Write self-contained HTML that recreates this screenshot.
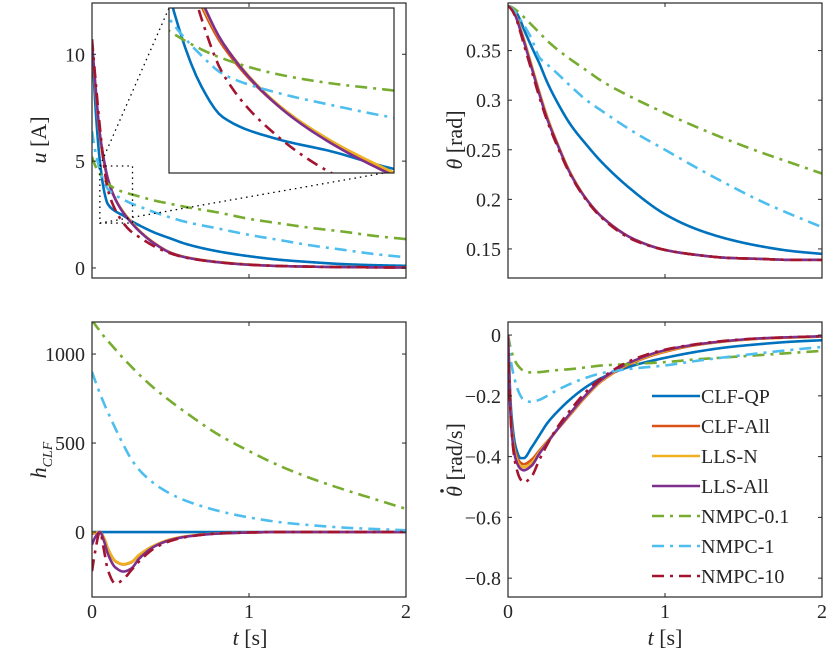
<!DOCTYPE html>
<html><head><meta charset="utf-8"><style>
html,body{margin:0;padding:0;background:#fff;}
svg{display:block;}
svg text{font-family:"Liberation Serif","DejaVu Serif",serif;}
</style></head><body>
<svg id="chart" width="830" height="664" viewBox="0 0 830 664" font-family="Liberation Serif, serif"></svg>
<script>
const T = [0,0.02,0.05,0.08,0.1,0.15,0.2,0.25,0.3,0.4,0.5,0.6,0.8,1.0,1.2,1.4,1.6,1.8,2.0];
const seriesNames = ["CLF-QP","CLF-All","LLS-N","LLS-All","NMPC-0.1","NMPC-1","NMPC-10"];
// u [A]
const uQP   = [10.7,7.8,5.0,3.5,3.0,2.65,2.45,2.2,2.0,1.65,1.38,1.12,0.78,0.55,0.38,0.27,0.18,0.13,0.1];
const uAll  = [10.5,8.6,6.2,4.8,4.15,3.2,2.6,2.15,1.75,1.15,0.72,0.5,0.28,0.16,0.09,0.06,0.04,0.03,0.02];
const uLN   = [10.5,8.6,6.2,4.85,4.2,3.22,2.62,2.17,1.76,1.15,0.72,0.5,0.28,0.16,0.09,0.06,0.04,0.03,0.02];
const uLA   = [10.5,8.7,6.3,4.9,4.2,3.2,2.58,2.12,1.73,1.13,0.71,0.49,0.27,0.15,0.09,0.06,0.04,0.03,0.02];
const uN01  = [5.2,4.8,4.4,4.1,3.95,3.7,3.55,3.45,3.35,3.15,3.0,2.85,2.6,2.3,2.08,1.87,1.7,1.5,1.35];
const uN1   = [6.4,5.5,4.6,4.0,3.7,3.4,3.2,3.02,2.88,2.6,2.36,2.15,1.85,1.55,1.3,1.05,0.85,0.65,0.5];
const uN10  = [10.7,9.0,6.6,4.6,3.7,2.7,2.1,1.7,1.45,1.0,0.68,0.48,0.27,0.15,0.09,0.06,0.04,0.03,0.02];
// theta [rad]
const thQP  = [0.395,0.394,0.389,0.38,0.372,0.354,0.337,0.318,0.302,0.275,0.255,0.237,0.208,0.185,0.17,0.16,0.153,0.148,0.145];
const thAll = [0.395,0.393,0.385,0.372,0.362,0.335,0.308,0.283,0.262,0.226,0.2,0.182,0.16,0.149,0.144,0.141,0.14,0.139,0.139];
const thLN  = [0.395,0.393,0.385,0.372,0.362,0.335,0.308,0.283,0.262,0.226,0.2,0.182,0.16,0.149,0.144,0.141,0.14,0.139,0.139];
const thLA  = [0.395,0.393,0.384,0.37,0.36,0.333,0.306,0.281,0.261,0.225,0.2,0.182,0.16,0.149,0.144,0.141,0.14,0.139,0.139];
const thN01 = [0.395,0.394,0.391,0.387,0.384,0.376,0.368,0.36,0.353,0.341,0.33,0.319,0.302,0.287,0.273,0.26,0.248,0.237,0.226];
const thN1  = [0.395,0.393,0.388,0.381,0.376,0.362,0.343,0.336,0.329,0.314,0.3,0.289,0.268,0.25,0.232,0.215,0.199,0.185,0.172];
const thN10 = [0.395,0.392,0.383,0.368,0.357,0.33,0.303,0.279,0.259,0.224,0.199,0.181,0.159,0.149,0.144,0.141,0.14,0.139,0.139];
// h_CLF
const hQP   = [0,0,0,0,0,0,0,0,0,0,0,0,0,0,0,0,0,0,0];
const hAll  = [-10,-5,0,-40,-90,-165,-182,-170,-130,-75,-42,-25,-8,-3,0,0,0,0,0];
const hLN   = [0,-3,0,-40,-90,-163,-180,-168,-128,-74,-41,-24,-8,-3,0,0,0,0,0];
const hLA   = [-70,-30,0,-60,-120,-200,-222,-205,-150,-80,-45,-26,-9,-3,0,0,0,0,0];
const hN01  = [1190,1165,1130,1095,1075,1025,975,930,885,805,735,670,550,455,370,300,240,185,130];
const hN1   = [900,850,780,715,675,580,490,410,350,270,215,175,120,82,55,38,25,17,10];
const hN10  = [-220,-110,0,-120,-210,-290,-265,-215,-165,-90,-50,-28,-8,-2,0,0,0,0,0];
// theta-dot [rad/s]
const tdQP  = [0,-0.25,-0.37,-0.405,-0.405,-0.37,-0.33,-0.29,-0.26,-0.21,-0.17,-0.14,-0.1,-0.075,-0.055,-0.04,-0.03,-0.022,-0.017];
const tdAll = [0,-0.28,-0.39,-0.42,-0.425,-0.41,-0.38,-0.35,-0.32,-0.26,-0.2,-0.15,-0.09,-0.055,-0.033,-0.02,-0.012,-0.008,-0.005];
const tdLN  = [0,-0.29,-0.4,-0.43,-0.435,-0.42,-0.385,-0.352,-0.32,-0.258,-0.198,-0.148,-0.088,-0.053,-0.032,-0.02,-0.012,-0.008,-0.005];
const tdLA  = [0,-0.3,-0.41,-0.44,-0.445,-0.43,-0.39,-0.355,-0.32,-0.255,-0.195,-0.145,-0.085,-0.05,-0.031,-0.019,-0.011,-0.007,-0.004];
const tdN01 = [0,-0.05,-0.09,-0.11,-0.118,-0.123,-0.122,-0.119,-0.116,-0.112,-0.106,-0.1,-0.095,-0.089,-0.08,-0.073,-0.066,-0.059,-0.052];
const tdN1  = [0,-0.09,-0.16,-0.2,-0.213,-0.22,-0.213,-0.2,-0.185,-0.16,-0.14,-0.125,-0.11,-0.1,-0.085,-0.072,-0.06,-0.049,-0.039];
const tdN10 = [0,-0.3,-0.43,-0.475,-0.485,-0.465,-0.41,-0.36,-0.315,-0.245,-0.185,-0.14,-0.08,-0.048,-0.03,-0.018,-0.011,-0.007,-0.004];
const xTicks = [0,1,2];
const uTicks = [0,5,10];
const thTicks = [0.15,0.2,0.25,0.3,0.35];
const hTicks = [0,500,1000];
const tdTicks = [0,-0.2,-0.4,-0.6,-0.8];

const NS="http://www.w3.org/2000/svg";
const svg=document.getElementById('chart');
const FONT="Liberation Serif, serif";
const colors=["#0072BD","#D95319","#EDB120","#7E2F8E","#77AC30","#4DBEEE","#A2142F"];
const dashed=[false,false,false,false,true,true,true];
const DASH="12 6 3 6";
function mk(tag,attrs,parent){const e=document.createElementNS(NS,tag);for(const k in attrs)e.setAttribute(k,attrs[k]);if(tag==='text')e.setAttribute('font-family',FONT);(parent||svg).appendChild(e);return e;}

function interp(xs,ys){
  const n=xs.length,d=[],m=[];
  for(let i=0;i<n-1;i++)d.push((ys[i+1]-ys[i])/(xs[i+1]-xs[i]));
  m[0]=d[0];m[n-1]=d[n-2];
  for(let i=1;i<n-1;i++){ if(d[i-1]*d[i]<=0)m[i]=0; else {const h0=xs[i]-xs[i-1],h1=xs[i+1]-xs[i];const w1=2*h1+h0,w2=h1+2*h0;m[i]=(w1+w2)/(w1/d[i-1]+w2/d[i]);} }
  const out=[];
  for(let i=0;i<n-1;i++){const h=xs[i+1]-xs[i];const steps=Math.max(4,Math.ceil(h*200));
    for(let s=0;s<steps;s++){const u=s/steps,u2=u*u,u3=u2*u;
      out.push([xs[i]+u*h,(2*u3-3*u2+1)*ys[i]+(u3-2*u2+u)*h*m[i]+(-2*u3+3*u2)*ys[i+1]+(u3-u2)*h*m[i+1]]);}}
  out.push([xs[n-1],ys[n-1]]);return out;
}
function scale(d0,d1,p0,p1){return v=>p0+(v-d0)*(p1-p0)/(d1-d0);}

function panel(o){
  const g=mk('g',{});
  
  
  const X=scale(o.xd[0],o.xd[1],o.l,o.r),Y=scale(o.yd[0],o.yd[1],o.b,o.t);
  const cid='clip-'+o.name;
  const cp=mk('clipPath',{id:cid},g);mk('rect',{x:o.l,y:o.t,width:o.r-o.l,height:o.b-o.t},cp);
  const lg=mk('g',{'clip-path':'url(#'+cid+')'},g);
  o.series.forEach((ys,i)=>{
    const pts=interp(T,ys);
    const p=mk('path',{d:'M'+pts.map(q=>X(q[0]).toFixed(2)+','+Y(q[1]).toFixed(2)).join('L'),fill:'none',stroke:colors[i],'stroke-width':2.6,'stroke-linejoin':'round'},lg);
    if(dashed[i])p.setAttribute('stroke-dasharray',DASH);
    
    
  });
  if(o.extra)o.extra(g,X,Y);
  const box=mk('rect',{x:o.l,y:o.t,width:o.r-o.l,height:o.b-o.t,fill:'none',stroke:'#262626','stroke-width':1.2},g);
  
  
  o.xt.forEach(v=>{const x=X(v);
    mk('line',{x1:x,x2:x,y1:o.b,y2:o.b-4,stroke:'#262626','stroke-width':1},g);
    mk('line',{x1:x,x2:x,y1:o.t,y2:o.t+4,stroke:'#262626','stroke-width':1},g);
    if(o.xlabels){const t=mk('text',{x:x,y:o.b+21,'text-anchor':'middle','font-size':20,fill:'#262626'},g);t.textContent=String(v);
      
      }
  });
  o.yt.forEach(v=>{const y=Y(v);
    mk('line',{x1:o.l,x2:o.l+4,y1:y,y2:y,stroke:'#262626','stroke-width':1},g);
    mk('line',{x1:o.r,x2:o.r-4,y1:y,y2:y,stroke:'#262626','stroke-width':1},g);
    const t=mk('text',{x:o.l-7,y:y+7,'text-anchor':'end','font-size':20,fill:'#262626'},g);t.textContent=o.fmt(v);
    
    
  });
  return {X,Y};
}
const fmtNum=v=>(v<0?'−':'')+String(Math.abs(v));

panel({name:'u-panel',l:92,r:406,t:3,b:278,xd:[0,2],yd:[-0.47,12.4],series:[uQP,uAll,uLN,uLA,uN01,uN1,uN10],xt:xTicks,yt:uTicks,fmt:fmtNum,xlabels:false,
  extra:(g,X,Y)=>{
    const x0=X(0.05),x1=X(0.258),y0=Y(4.77),y1=Y(2.1);
    const r=mk('rect',{x:x0,y:y0,width:x1-x0,height:y1-y0,fill:'none',stroke:'#000','stroke-width':1.3,'stroke-dasharray':'1.5 4'},g);
    
    
    mk('line',{x1:x0,y1:y0,x2:169,y2:8,stroke:'#000','stroke-width':1.3,'stroke-dasharray':'1.5 4'},g);
    mk('line',{x1:x0,y1:y1,x2:384,y2:173,stroke:'#000','stroke-width':1.3,'stroke-dasharray':'1.5 4'},g);
  }});
(function(){
  const o={l:169,r:394,t:8,b:173};
  const g=mk('g',{});
  
  
  mk('rect',{x:o.l,y:o.t,width:o.r-o.l,height:o.b-o.t,fill:'#fff'},g);
  const X=scale(0.05,0.258,o.l,o.r),Y=scale(2.1,4.77,o.b,o.t);
  const cp=mk('clipPath',{id:'clip-inset'},g);mk('rect',{x:o.l,y:o.t,width:o.r-o.l,height:o.b-o.t},cp);
  const lg=mk('g',{'clip-path':'url(#clip-inset)'},g);
  [uQP,uAll,uLN,uLA,uN01,uN1,uN10].forEach((ys,i)=>{
    const pts=interp(T,ys);
    const p=mk('path',{d:'M'+pts.map(q=>X(q[0]).toFixed(2)+','+Y(q[1]).toFixed(2)).join('L'),fill:'none',stroke:colors[i],'stroke-width':2.6},lg);
    if(dashed[i])p.setAttribute('stroke-dasharray',DASH);
    
    
  });
  mk('rect',{x:o.l,y:o.t,width:o.r-o.l,height:o.b-o.t,fill:'none',stroke:'#262626','stroke-width':1.2},g);
})();
panel({name:'theta-panel',l:508,r:822,t:3,b:278,xd:[0,2],yd:[0.1207,0.398],series:[thQP,thAll,thLN,thLA,thN01,thN1,thN10],xt:xTicks,yt:thTicks,fmt:v=>String(v),xlabels:false});
panel({name:'hclf-panel',l:92,r:406,t:322,b:597,xd:[0,2],yd:[-365,1180],series:[hQP,hAll,hLN,hLA,hN01,hN1,hN10],xt:xTicks,yt:hTicks,fmt:fmtNum,xlabels:true});
panel({name:'thetadot-panel',l:508,r:822,t:322,b:597,xd:[0,2],yd:[-0.862,0.043],series:[tdQP,tdAll,tdLN,tdLA,tdN01,tdN1,tdN10],xt:xTicks,yt:tdTicks,fmt:fmtNum,xlabels:true});

function label(html,x,y,rot,name){
  const g=mk('g',{transform:'translate('+x+' '+y+')'+(rot?' rotate(-90)':'')});
  
  
  const t=mk('text',{x:0,y:0,'text-anchor':'middle','font-size':22,fill:'#262626'},g);
  t.innerHTML=html;
  return {g,t};
}
label('<tspan font-style="italic">u</tspan> [A]',46,140,true,'u-axis-title');
label('<tspan font-style="italic">θ</tspan> [rad]',462,140,true,'theta-axis-title');
label('<tspan font-style="italic">h</tspan><tspan font-style="italic" font-size="14" dy="6">CLF</tspan>',46,460,true,'hclf-axis-title');
(function(){
  const r=label('<tspan font-style="italic">θ</tspan> [rad/s]',462,460,true,'thetadot-axis-title');
  const w=r.t.getComputedTextLength?r.t.getComputedTextLength():88;
  mk('circle',{cx:-w/2+6,cy:-20,r:1.8,fill:'#262626'},r.g);
})();
label('<tspan font-style="italic">t</tspan> [s]',250,645,false,'x-axis-title-left');
label('<tspan font-style="italic">t</tspan> [s]',665,645,false,'x-axis-title-right');

const lgG=mk('g',{});


seriesNames.forEach((n,i)=>{
  const y=396+i*30;
  const e=mk('g',{},lgG);
  
  
  const l=mk('line',{x1:652,x2:700,y1:y,y2:y,stroke:colors[i],'stroke-width':2.6},e);
  if(dashed[i])l.setAttribute('stroke-dasharray',DASH);
  const t=mk('text',{x:701,y:y+7,'font-size':20,fill:'#262626'},e);t.textContent=n;
});
</script>
</body></html>
